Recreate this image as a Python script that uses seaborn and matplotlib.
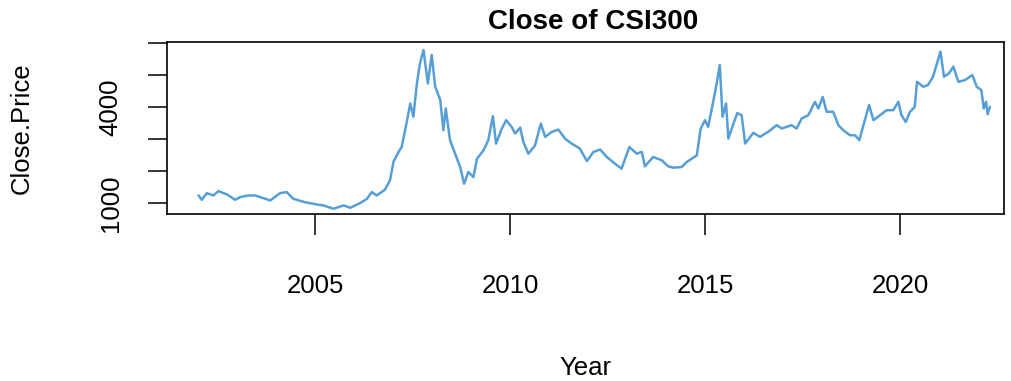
import numpy as np
import pandas as pd
import seaborn as sns
import matplotlib
matplotlib.use("Agg")
import matplotlib.pyplot as plt

# values
year = [2002.01, 2002.09, 2002.22, 2002.39, 2002.52, 2002.74, 2002.95, 2003.08,
        2003.29, 2003.46, 2003.85, 2004.10, 2004.27, 2004.44, 2004.74, 2005.04,
        2005.21, 2005.47, 2005.73, 2005.90, 2006.15, 2006.33, 2006.45, 2006.58,
        2006.79, 2006.92, 2007.01, 2007.14, 2007.22, 2007.35, 2007.44, 2007.52,
        2007.61, 2007.69, 2007.78, 2007.89, 2007.99, 2008.08, 2008.21, 2008.29,
        2008.35, 2008.46, 2008.59, 2008.72, 2008.82, 2008.93, 2009.06, 2009.15,
        2009.32, 2009.44, 2009.56, 2009.64, 2009.79, 2009.90, 2010.04, 2010.13,
        2010.26, 2010.34, 2010.47, 2010.64, 2010.79, 2010.90, 2011.07, 2011.24,
        2011.41, 2011.58, 2011.79, 2011.97, 2012.14, 2012.31, 2012.48, 2012.69,
        2012.86, 2013.06, 2013.25, 2013.38, 2013.46, 2013.67, 2013.89, 2014.06,
        2014.19, 2014.40, 2014.53, 2014.79, 2014.89, 2015.00, 2015.08, 2015.21,
        2015.30, 2015.38, 2015.45, 2015.54, 2015.60, 2015.73, 2015.83, 2015.94,
        2016.03, 2016.24, 2016.41, 2016.62, 2016.84, 2016.97, 2017.22, 2017.35,
        2017.48, 2017.65, 2017.82, 2017.91, 2018.02, 2018.12, 2018.29, 2018.42,
        2018.55, 2018.72, 2018.85, 2018.96, 2019.10, 2019.21, 2019.32, 2019.49,
        2019.66, 2019.83, 2019.96, 2020.04, 2020.15, 2020.26, 2020.38, 2020.44,
        2020.60, 2020.72, 2020.85, 2020.95, 2021.04, 2021.13, 2021.26, 2021.37,
        2021.50, 2021.67, 2021.86, 2021.97, 2022.09, 2022.15, 2022.21, 2022.25,
        2022.31]
close = [1250, 1115, 1320, 1250, 1385, 1280, 1115, 1200,
         1250, 1250, 1095, 1320, 1355, 1145, 1040, 970,
         940, 835, 940, 865, 1010, 1145, 1355, 1250,
         1430, 1720, 2300, 2605, 2760, 3540, 4115, 3700,
         4740, 5365, 5780, 4740, 5625, 4635, 4220, 3280,
         3960, 2970, 2550, 2135, 1615, 1980, 1820, 2395,
         2655, 2970, 3720, 2865, 3335, 3595, 3385, 3180,
         3365, 2915, 2550, 2810, 3490, 3075, 3230, 3300,
         3020, 2865, 2710, 2320, 2605, 2680, 2450, 2240,
         2085, 2760, 2550, 2605, 2155, 2450, 2345, 2155,
         2115, 2135, 2290, 2500, 3335, 3595, 3385, 4165,
         4740, 5310, 3700, 4115, 3020, 3490, 3820, 3750,
         2865, 3200, 3075, 3230, 3440, 3335, 3440, 3335,
         3645, 3750, 4165, 3960, 4320, 3855, 3855, 3440,
         3280, 3125, 3125, 2970, 3595, 4065, 3595, 3750,
         3905, 3905, 4165, 3750, 3540, 3855, 4010, 4790,
         4635, 4690, 4950, 5365, 5730, 4950, 5055, 5260,
         4790, 4845, 5000, 4635, 4530, 3960, 4165, 3780,
         4010]

x_ticks = [2005, 2010, 2015, 2020]
y_ticks = [1000, 2000, 3000, 4000, 5000, 6000]
y_tick_labels = ["1000", "", "", "4000", "", ""]

df = pd.DataFrame({"Year": year, "Close.Price": close})

sns.set_style("white")
plt.rcParams["font.family"] = ["Liberation Sans", "DejaVu Sans"]
plt.rcParams["text.color"] = "black"

fig = plt.figure(figsize=(10.11, 3.81), dpi=100)
ax = fig.add_axes([167 / 1011, 1 - 214 / 381, (1004 - 167) / 1011, (214 - 42) / 381])

sns.lineplot(data=df, x="Year", y="Close.Price", ax=ax, color="#569fd6",
             linewidth=1.8, sort=False)

ax.set_xlim(2001.2, 2022.67)
ax.set_ylim(672, 6030)
ax.set_xticks(x_ticks)
ax.set_xticklabels([str(t) for t in x_ticks], fontsize=18.5)
ax.set_yticks(y_ticks)
ax.set_yticklabels(y_tick_labels, fontsize=18.5, rotation=90, va="center")
ax.tick_params(axis="x", bottom=True, direction="out", length=15, width=1.1,
               color="black", labelcolor="black", pad=28)
ax.tick_params(axis="y", left=True, direction="out", length=14, width=1.1,
               color="black", labelcolor="black", pad=18)

for s in ax.spines.values():
    s.set_color("black")
    s.set_linewidth(1.2)

ax.set_xlabel("")
ax.set_ylabel("")
fig.text(585 / 1011, 1 - 368 / 381, "Year", ha="center", va="center",
         fontsize=18.5, color="black")
fig.text(22 / 1011, 1 - 128 / 381, "Close.Price", ha="center", va="center",
         rotation=90, fontsize=18.5, color="black")
fig.text(593 / 1011, 1 - 22 / 381, "Close of CSI300", ha="center", va="center",
         fontsize=20, fontweight="bold", color="black")

fig.savefig("out.png", dpi=100)
